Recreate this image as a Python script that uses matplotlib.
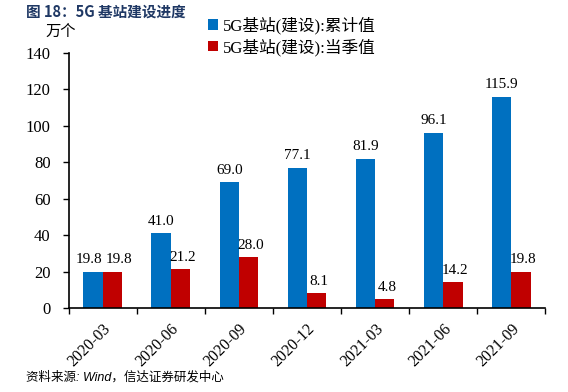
import numpy as np
import matplotlib.pyplot as plt

# data
periods = ["2020-03", "2020-06", "2020-09", "2020-12", "2021-03", "2021-06", "2021-09"]
cumulative = [19.8, 41.0, 69.0, 77.1, 81.9, 96.1, 115.9]
quarterly = [19.8, 21.2, 28.0, 8.1, 4.8, 14.2, 19.8]
label_cum = "5G基站(建设):累计值"
label_q = "5G基站(建设):当季值"

serif = ["Liberation Serif", "DejaVu Serif"]
cjk = ["Liberation Serif", "Noto Sans CJK SC", "DejaVu Sans"]
plt.rcParams["font.family"] = cjk

fig = plt.figure(figsize=(5.68, 3.92), dpi=100)
ax = fig.add_axes([0.121, 0.214, 0.839, 0.651])

x = np.arange(len(periods))
w = 0.285
b1 = ax.bar(x - w / 2, cumulative, w, color="#0070C0", label=label_cum)
b2 = ax.bar(x + w / 2, quarterly, w, color="#C00000", label=label_q)

# value labels, nudged apart where the two bars are about the same height
for i, (c, q) in enumerate(zip(cumulative, quarterly)):
    nudge = 3 if abs(c - q) < 10 else 0
    ax.annotate(f"{c:.1f}", (x[i] - w / 2, c), xytext=(-nudge, 4),
                textcoords="offset points", ha="center", va="bottom",
                fontsize=11, family=serif)
    ax.annotate(f"{q:.1f}", (x[i] + w / 2, q), xytext=(nudge + 1.5, 4),
                textcoords="offset points", ha="center", va="bottom",
                fontsize=11, family=serif)

ax.set_xlim(-0.5, len(periods) - 0.5)
ax.set_ylim(0, 140)
ax.set_yticks(range(0, 141, 20))
ax.set_xticks(x)
ax.set_xticklabels(periods, rotation=45, ha="right", rotation_mode="anchor",
                   family=serif, fontsize=11.5)
ax.set_xticks(np.arange(-0.5, len(periods)), minor=True)
ax.tick_params(axis="x", which="major", length=0, pad=9)
ax.tick_params(axis="x", which="minor", length=4, direction="out", width=1)
ax.tick_params(axis="y", length=4, direction="out", width=1, labelsize=12, pad=9)
for lab in ax.get_yticklabels():
    lab.set_family(serif)
for s in ["top", "right"]:
    ax.spines[s].set_visible(False)
for s in ["left", "bottom"]:
    ax.spines[s].set_linewidth(1.2)

fig.text(0.045, 0.99, "图 18：5G 基站建设进度", fontsize=10.5, fontweight="bold",
         color="#1F3864", va="top", family=["Noto Sans CJK SC", "DejaVu Sans"])
fig.text(0.08, 0.92, "万个", fontsize=11, va="center",
         family=["Noto Sans CJK SC", "DejaVu Sans"])
fig.legend(handles=[b1, b2], loc="upper left", bbox_to_anchor=(0.355, 0.975),
           frameon=False, fontsize=12, handlelength=0.6, handleheight=0.6,
           handletextpad=0.3, labelspacing=0.25, borderaxespad=0)
fig.text(0.045, 0.022, "资料来源: Wind，信达证券研发中心", fontsize=9, style="italic",
         va="bottom", family=["Liberation Sans", "Noto Sans CJK SC"])

fig.savefig("out.png", dpi=100)
